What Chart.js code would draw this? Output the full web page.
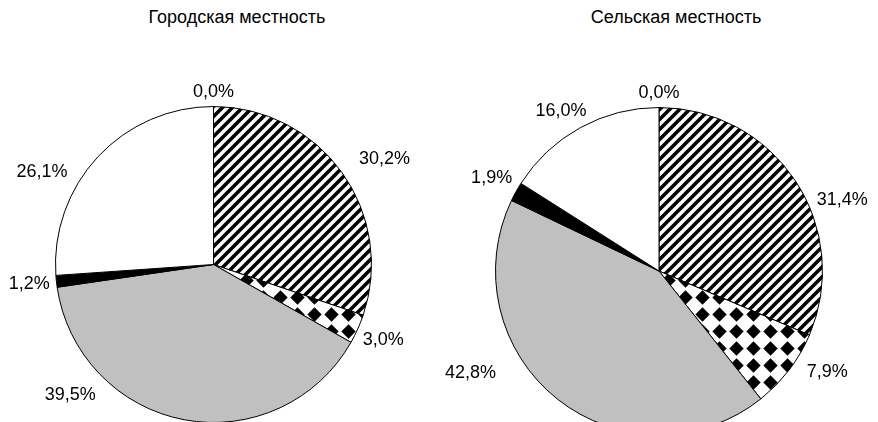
<!DOCTYPE html>
<html>
<head>
<meta charset="utf-8">
<script src="https://cdn.jsdelivr.net/npm/chart.js@4.4.1/dist/chart.umd.min.js"></script>
<style>
  html, body { margin: 0; padding: 0; background: #fff; overflow: hidden; }
  #wrap { position: relative; width: 878px; height: 422px; overflow: hidden; }
  .box { position: absolute; top: 0; }
  .title { position: absolute; top: 7px; font: 18px "Liberation Sans", Arial, sans-serif; color: #000; text-align: center; width: 300px; }
</style>
</head>
<body>
<div id="wrap">
  <div class="title" id="t1" style="left:87px">Городская местность</div>
  <div class="title" id="t2" style="left:526px">Сельская местность</div>
  <div class="box" style="left:0;width:439px;height:440px"><canvas id="urban"></canvas></div>
  <div class="box" style="left:439px;width:439px;height:450px"><canvas id="rural"></canvas></div>
</div>
<script>
// data
const categories = ['Категория 1', 'Категория 2', 'Категория 3', 'Категория 4', 'Категория 5', 'Категория 6'];
const urbanValues = [0.0, 30.2, 3.0, 39.5, 1.2, 26.1];
const ruralValues = [0.0, 31.4, 7.9, 42.8, 1.9, 16.0];

// label nudges (degrees along the circle, distance of label centre from the edge); null = automatic
const urbanLabelShift = [0, 3.9, 0, 37, 0, -14.6];
const urbanLabelGap = [null, 43, null, 36, null, 37];
const ruralLabelShift = [0, 12.4, -6.2, 23, 0, -2.7];
const ruralLabelGap = [null, 33, 33, 51, null, 24];

// patterns
function stripePattern() {
  const c = document.createElement('canvas');
  c.width = 10; c.height = 10;
  const g = c.getContext('2d');
  g.fillStyle = '#fff';
  g.fillRect(0, 0, 10, 10);
  g.strokeStyle = '#000';
  g.lineWidth = 3.6;
  g.beginPath();
  g.moveTo(-2, 12); g.lineTo(12, -2);
  g.moveTo(-7, 7); g.lineTo(7, -7);
  g.moveTo(3, 17); g.lineTo(17, 3);
  g.stroke();
  return g.createPattern(c, 'repeat');
}

function diamondPattern() {
  const s = 17, h = 7.2;
  const c = document.createElement('canvas');
  c.width = s; c.height = s;
  const g = c.getContext('2d');
  g.fillStyle = '#fff';
  g.fillRect(0, 0, s, s);
  g.fillStyle = '#000';
  const m = s / 2;
  g.beginPath();
  g.moveTo(m, m - h); g.lineTo(m + h, m); g.lineTo(m, m + h); g.lineTo(m - h, m);
  g.closePath();
  g.fill();
  return g.createPattern(c, 'repeat');
}

const fills = ['#ffffff', stripePattern(), diamondPattern(), '#c0c0c0', '#000000', '#ffffff'];

// labels outside the pie
const labelPlugin = {
  id: 'outLabels',
  afterDraw(chart, args, opts) {
    const ctx = chart.ctx;
    const meta = chart.getDatasetMeta(0);
    const values = chart.data.datasets[0].data;
    ctx.save();
    ctx.font = '18px "Liberation Sans", Arial, sans-serif';
    ctx.fillStyle = '#000';
    ctx.textAlign = 'center';
    ctx.textBaseline = 'middle';
    meta.data.forEach((arc, i) => {
      const a = (arc.startAngle + arc.endAngle) / 2 + (opts.shift[i] || 0) * Math.PI / 180;
      const text = values[i].toFixed(1).replace('.', ',') + '%';
      const hw = ctx.measureText(text).width / 2;
      const hh = 8;
      let d = arc.outerRadius + 6 + hw * Math.abs(Math.cos(a)) + hh * Math.abs(Math.sin(a));
      if (opts.gap[i] != null) d = arc.outerRadius + opts.gap[i];
      ctx.fillText(text, arc.x + Math.cos(a) * d, arc.y + Math.sin(a) * d);
    });
    ctx.restore();
  }
};

function makePie(id, values, pad, shift, gap) {
  new Chart(document.getElementById(id), {
    type: 'pie',
    data: {
      labels: categories,
      datasets: [{
        data: values,
        backgroundColor: fills,
        borderColor: '#000',
        borderWidth: 1
      }]
    },
    options: {
      responsive: true,
      maintainAspectRatio: false,
      animation: false,
      events: [],
      layout: { padding: pad },
      plugins: {
        legend: { display: false },
        tooltip: { enabled: false },
        outLabels: { shift: shift, gap: gap }
      }
    },
    plugins: [labelPlugin]
  });
}

makePie('urban', urbanValues, { left: 55, right: 67, top: 106, bottom: 17 }, urbanLabelShift, urbanLabelGap);
makePie('rural', ruralValues, { left: 56, right: 55, top: 107, bottom: 15 }, ruralLabelShift, ruralLabelGap);
</script>
</body>
</html>
